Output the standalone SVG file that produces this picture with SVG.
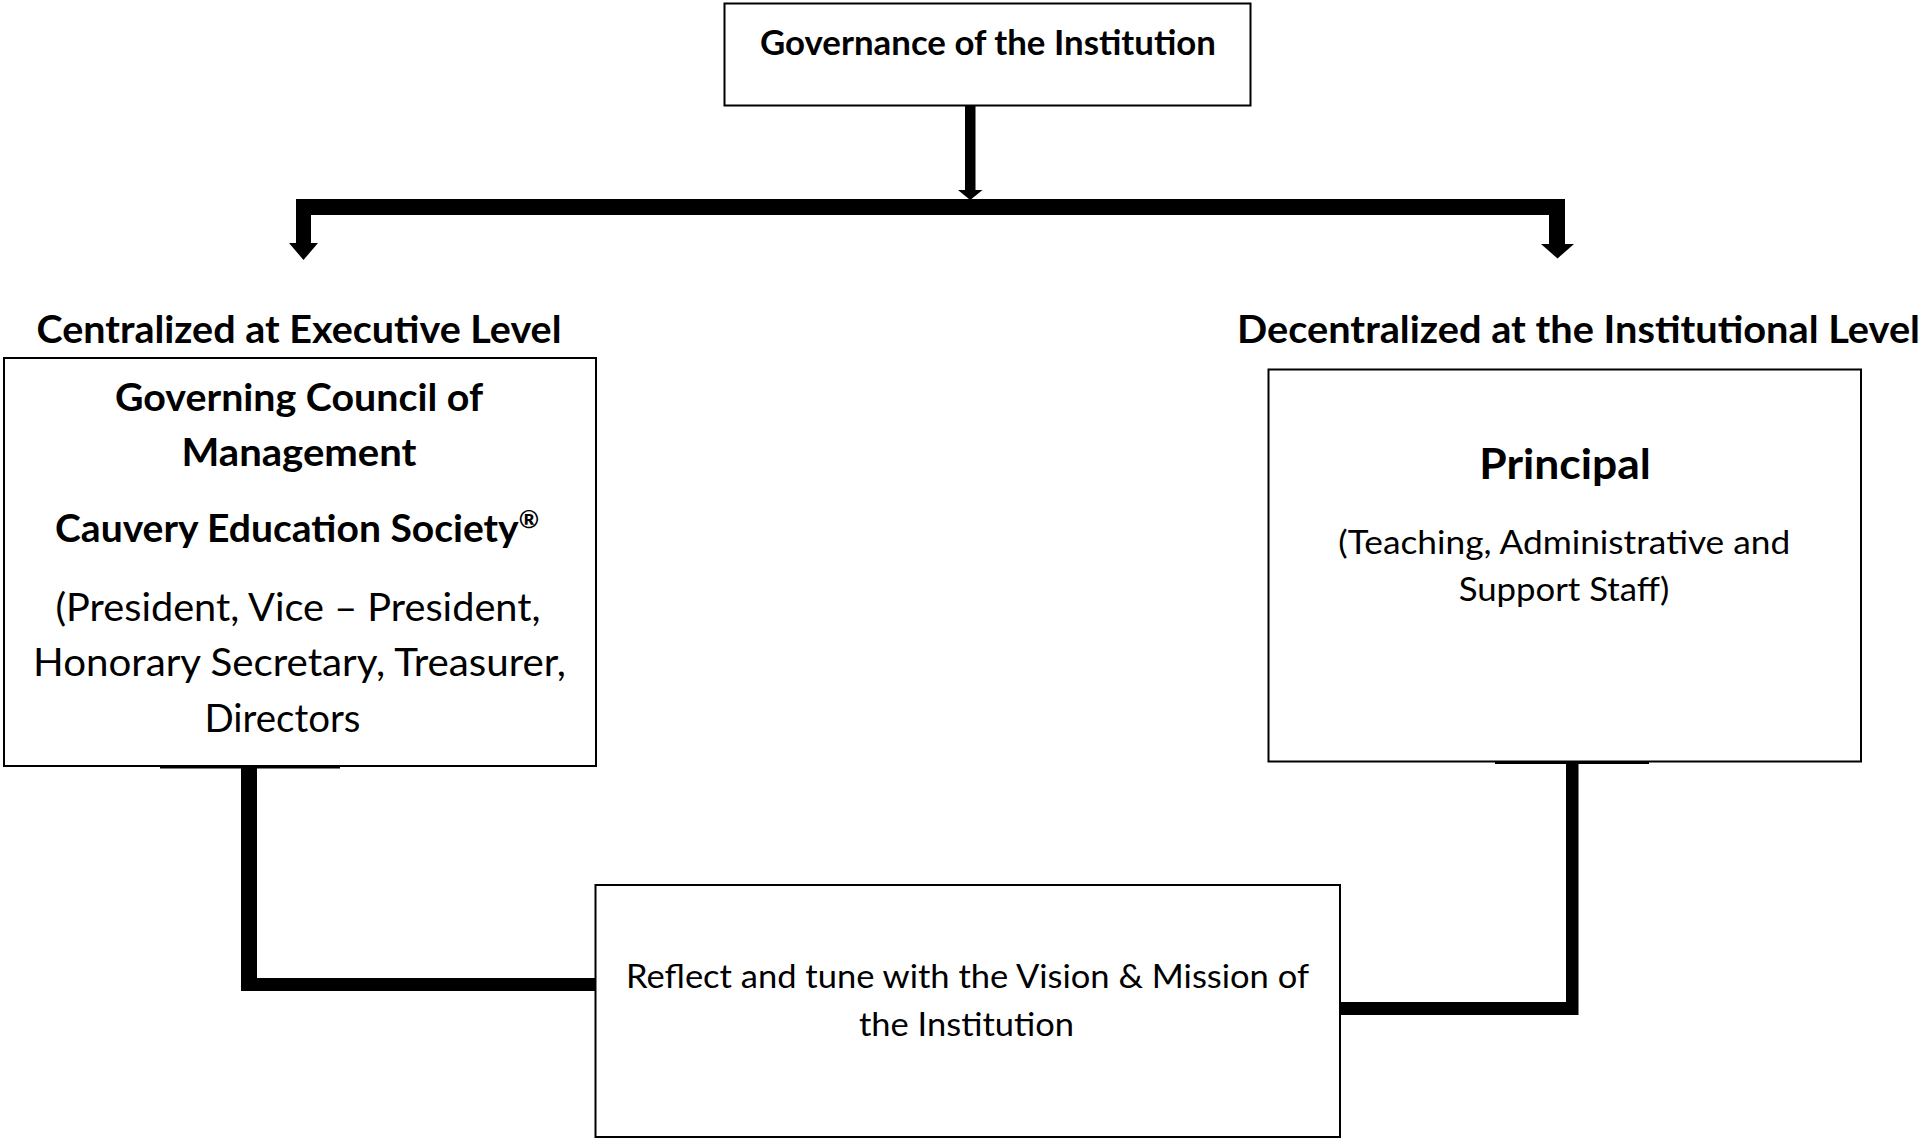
<svg xmlns="http://www.w3.org/2000/svg" width="1922" height="1139" viewBox="0 0 1922 1139">
<style>
  .box { fill: #ffffff; stroke: #000000; stroke-width: 2; }
  .t { font-family: Lato, "Liberation Sans", sans-serif; fill: #000000; text-anchor: middle; }
  .b { font-weight: bold; }
  .conn { fill: #000000; stroke: none; }
  .stub { stroke: #000000; stroke-width: 4; fill: none; }
</style>
<rect x="0" y="0" width="1922" height="1139" fill="#ffffff"/>

<g id="connectors">
  <!-- top arrow into bar -->
  <rect class="conn" x="965" y="105" width="10.5" height="86"/>
  <polygon class="conn" points="958,190 982.5,190 970.2,200"/>
  <!-- horizontal bar -->
  <rect class="conn" x="296" y="199" width="1269" height="16"/>
  <!-- left branch -->
  <rect class="conn" x="296" y="199" width="15" height="45"/>
  <polygon class="conn" points="289,243 318,243 303.5,260"/>
  <!-- right branch -->
  <rect class="conn" x="1549" y="199" width="16" height="46"/>
  <polygon class="conn" points="1541,244 1574,244 1557.5,258.5"/>
  <!-- left box to bottom box -->
  <line class="stub" x1="160" y1="766.5" x2="340" y2="766.5"/>
  <path class="conn" d="M241,766 H257 V978 H596 V991 H241 Z"/>
  <!-- right box to bottom box -->
  <line class="stub" x1="1495" y1="762" x2="1649" y2="762"/>
  <path class="conn" d="M1566,761 H1578.5 V1015 H1339 V1002 H1566 Z"/>
</g>

<g id="node-governance">
  <rect class="box" x="724.5" y="3.5" width="526" height="102"/>
  <text class="t b" x="988" y="55" font-size="33.5" textLength="456" lengthAdjust="spacingAndGlyphs">Governance of the Institution</text>
</g>

<g id="label-centralized">
  <text class="t b" x="299" y="343" font-size="38" textLength="525" lengthAdjust="spacingAndGlyphs">Centralized at Executive Level</text>
</g>

<g id="label-decentralized">
  <text class="t b" x="1578.5" y="343" font-size="38" textLength="683" lengthAdjust="spacingAndGlyphs">Decentralized at the Institutional Level</text>
</g>

<g id="node-council">
  <rect class="box" x="4" y="358" width="592" height="408"/>
  <text class="t b" x="299" y="410.5" font-size="38" textLength="368" lengthAdjust="spacingAndGlyphs">Governing Council of</text>
  <text class="t b" x="299" y="465.5" font-size="38" textLength="235" lengthAdjust="spacingAndGlyphs">Management</text>
  <text class="t b" x="297" y="542" font-size="38" textLength="484" lengthAdjust="spacingAndGlyphs">Cauvery Education Society<tspan font-size="24" dy="-14">®</tspan></text>
  <text class="t" x="298" y="620.5" font-size="38" textLength="485" lengthAdjust="spacingAndGlyphs">(President, Vice – President,</text>
  <text class="t" x="299.5" y="676" font-size="38" textLength="533" lengthAdjust="spacingAndGlyphs">Honorary Secretary, Treasurer,</text>
  <text class="t" x="282.5" y="732" font-size="38" textLength="156" lengthAdjust="spacingAndGlyphs">Directors</text>
</g>

<g id="node-principal">
  <rect class="box" x="1268.5" y="369.5" width="592.5" height="392"/>
  <text class="t b" x="1565" y="479" font-size="42.5" textLength="171.5" lengthAdjust="spacingAndGlyphs">Principal</text>
  <text class="t" x="1564.3" y="553.5" font-size="33.5" textLength="452" lengthAdjust="spacingAndGlyphs">(Teaching, Administrative and</text>
  <text class="t" x="1564" y="601" font-size="33.5" textLength="210.5" lengthAdjust="spacingAndGlyphs">Support Staff)</text>
</g>

<g id="node-vision">
  <rect class="box" x="595.5" y="885" width="744.5" height="252"/>
  <text class="t" x="967.5" y="988" font-size="33.5" textLength="683" lengthAdjust="spacingAndGlyphs">Reflect and tune with the Vision &amp; Mission of</text>
  <text class="t" x="966.5" y="1036" font-size="33.5" textLength="215" lengthAdjust="spacingAndGlyphs">the Institution</text>
</g>
</svg>
